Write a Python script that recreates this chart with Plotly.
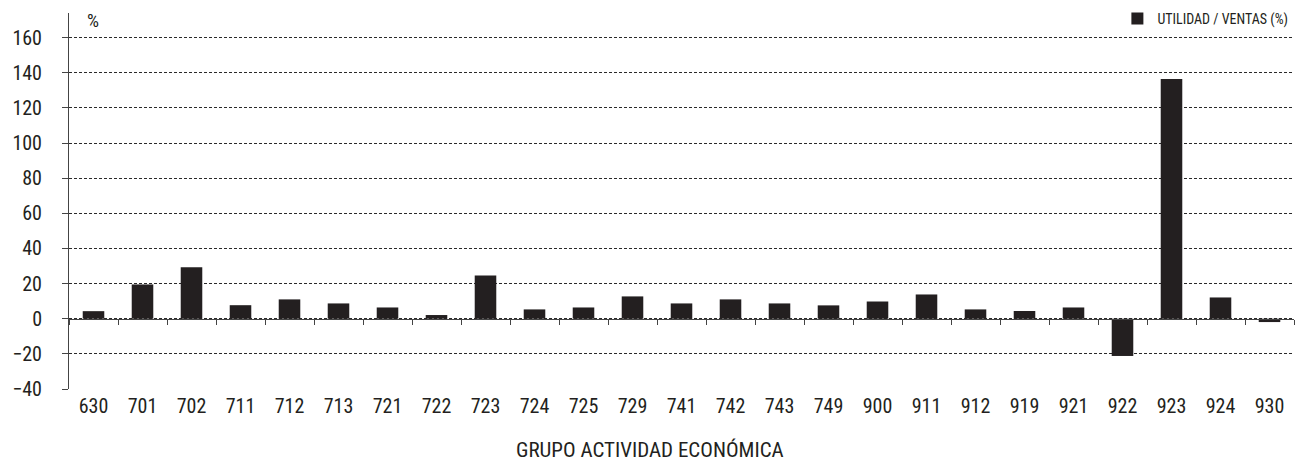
import plotly.graph_objects as go

categories = ["630", "701", "702", "711", "712", "713", "721", "722", "723", "724",
              "725", "729", "741", "742", "743", "749", "900", "911", "912", "919",
              "921", "922", "923", "924", "930"]
utilidad_ventas = [4.3, 19.5, 29.3, 7.7, 11.0, 8.7, 6.4, 2.1, 24.6, 5.3,
                   6.4, 12.7, 8.7, 11.0, 8.7, 7.6, 9.8, 13.8, 5.3, 4.4,
                   6.4, -21.2, 136.5, 12.1, -1.9]
y_ticks = [-40, -20, 0, 20, 40, 60, 80, 100, 120, 140, 160]
series_name = "UTILIDAD / VENTAS (%)"
x_title = "GRUPO ACTIVIDAD ECONÓMICA"

FONT = "Roboto Condensed, Liberation Sans Narrow, sans-serif"
INK = "#231f20"
AXIS = "#444444"
Y_MIN, Y_MAX = -40, 174

fig = go.Figure()
fig.add_trace(go.Bar(
    x=categories, y=utilidad_ventas, name=series_name,
    marker=dict(color=INK, line=dict(width=0)),
    width=0.44,
))
# invisible companion so that the zero-line axis (with boundary ticks) is drawn
fig.add_trace(go.Scatter(
    x=categories, y=[0] * len(categories), xaxis="x2", mode="markers",
    marker=dict(opacity=0), showlegend=False, hoverinfo="skip",
))

fig.update_layout(
    width=1299, height=465,
    margin=dict(l=69, r=5, t=13, b=76, autoexpand=False),
    paper_bgcolor="white", plot_bgcolor="white",
    font=dict(family=FONT, color=INK, size=20),
    showlegend=True,
    legend=dict(x=0.9995, xanchor="right", y=0.984, yanchor="middle",
                font=dict(size=14, family=FONT, color=INK),
                bgcolor="rgba(0,0,0,0)", itemwidth=30),
    xaxis=dict(
        type="category", domain=[0, 1], anchor="y", automargin=False,
        range=[-0.5, len(categories) - 0.5],
        showline=False, showgrid=False, zeroline=False, ticks="",
        ticklabelstandoff=3,
        tickfont=dict(size=20, family=FONT, color=INK),
    ),
    xaxis2=dict(
        type="category", overlaying="x", anchor="free", automargin=False,
        position=(0 - Y_MIN) / (Y_MAX - Y_MIN),
        range=[-0.5, len(categories) - 0.5],
        tickson="boundaries", ticks="outside", ticklen=5, tickwidth=1, tickcolor=AXIS,
        showticklabels=False, showline=True, linecolor=AXIS, linewidth=1,
        showgrid=False, zeroline=False,
    ),
    yaxis=dict(
        range=[Y_MIN, Y_MAX], tickvals=y_ticks, automargin=False,
        showgrid=True, gridcolor="#2a2a2a", gridwidth=1, griddash="3px,2px",
        zeroline=False, showline=True, linecolor=AXIS, linewidth=1,
        ticks="outside", ticklen=6, tickcolor=AXIS, ticklabelstandoff=16,
        tickfont=dict(size=20, family=FONT, color=INK),
    ),
    bargap=0.56,
)

fig.add_annotation(text="%", xref="paper", yref="paper", x=0.0192, y=0.980,
                   xanchor="center", yanchor="middle",
                   showarrow=False, font=dict(size=19, family=FONT, color=INK))
fig.add_annotation(text=x_title, xref="paper", yref="paper", x=0.474, y=-0.162,
                   xanchor="center", yanchor="middle", showarrow=False,
                   font=dict(size=21, family=FONT, color=INK))

fig.write_html("out.html", config={"displayModeBar": False},
               post_script="document.body.style.margin='0';document.body.style.overflow='hidden';")
